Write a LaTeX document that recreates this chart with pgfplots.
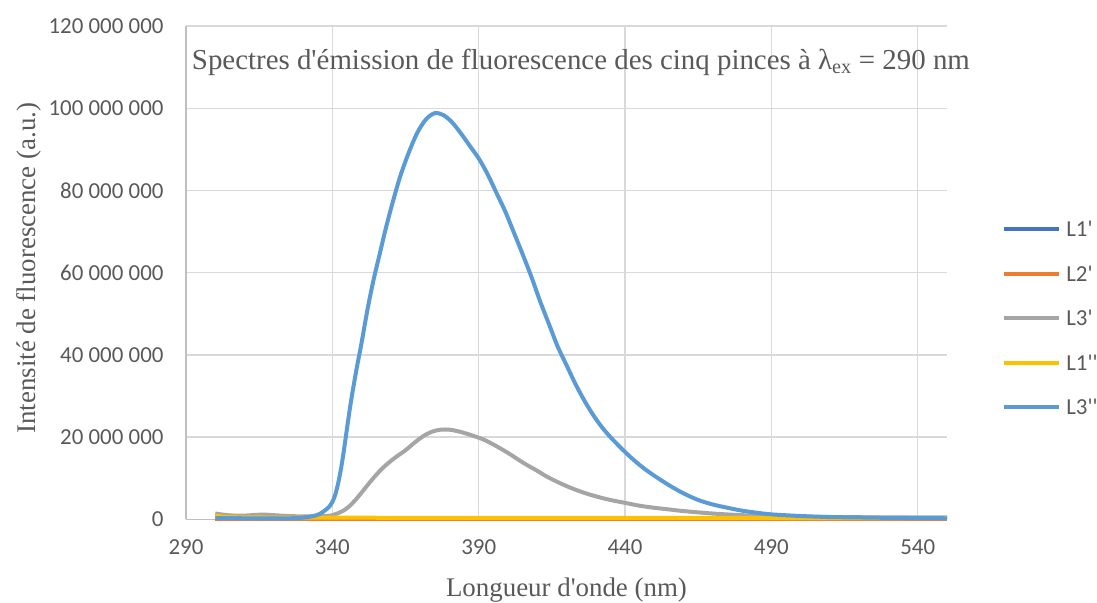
\documentclass[border=0pt]{standalone}
\usepackage{fontspec}
\setmainfont{Liberation Serif}
\newfontfamily\tnr{Liberation Serif}
\newfontfamily\calibri{Carlito}
\usepackage{pgfplots}
\pgfplotsset{compat=1.18}

\definecolor{sA}{HTML}{4472C4}
\definecolor{sB}{HTML}{ED7D31}
\definecolor{sC}{HTML}{A5A5A5}
\definecolor{sD}{HTML}{FFC000}
\definecolor{sE}{HTML}{5B9BD5}
\definecolor{txt}{HTML}{595959}
\definecolor{gridc}{HTML}{D9D9D9}
\definecolor{axisc}{HTML}{BFBFBF}

\begin{document}
\begin{tikzpicture}
\path[use as bounding box] (0bp,0bp) rectangle (1097bp,603bp);
\begin{axis}[
    at={(186bp,83.7bp)}, anchor=south west,
    scale only axis, width=761bp, height=493.3bp,
    xmin=290, xmax=550, ymin=0, ymax=120000000,
    clip=false,
    scaled y ticks=false,
    xtick={290,340,390,440,490,540},
    xticklabels={290,340,390,440,490,540},
    ytick={0,20000000,40000000,60000000,80000000,100000000,120000000},
    yticklabels={0,20 000 000,40 000 000,60 000 000,80 000 000,100 000 000,120 000 000},
    axis x line*=bottom, axis y line*=left,
    axis line style={axisc, line width=1.3bp, -},
    grid=major, major grid style={gridc, line width=1.3bp},
    major tick length=0pt,
    tick label style={font=\calibri\fontsize{23}{27}\selectfont, text=txt},
    yticklabel style={xshift=-19bp},
    xticklabel style={yshift=-17bp},
    title={Spectres d'émission de fluorescence des cinq pinces à λ\textsubscript{ex} = 290 nm},
    title style={at={(axis description cs:0.519,0.899)}, anchor=base,
        font=\tnr\fontsize{29}{33}\selectfont, text=txt},
    xlabel={Longueur d'onde (nm)},
    xlabel style={at={(axis description cs:0.5,-0.1555)}, anchor=base,
        font=\tnr\fontsize{27}{31}\selectfont, text=txt},
    ylabel={Intensité de fluorescence (a.u.)},
    ylabel style={at={(axis description cs:-0.1984,0.509)}, anchor=base,
        font=\tnr\fontsize{27}{31}\selectfont, text=txt},
    every axis plot/.append style={line width=4bp},
    legend image code/.code={\draw[#1] (0bp,0bp) -- (55bp,0bp);},
    legend cell align=left,
    legend style={at={(axis description cs:1.0685,0.408)}, anchor=west,
        draw=none, fill=none, font=\calibri\fontsize{23}{27}\selectfont,
        text=txt, row sep=29.5bp, column sep=5bp,
        nodes={inner sep=0pt, text height=15bp, text depth=0bp}},
]
% L1'
\addplot[sA] coordinates {(300,100000) (350,100000) (400,100000) (450,100000) (500,100000) (550,100000)};
\addlegendentry{L1'}
% L2'
\addplot[sB] coordinates {(300,150000) (350,150000) (400,150000) (450,150000) (500,150000) (550,150000)};
\addlegendentry{L2'}
% L3'
\addplot[sC, smooth] coordinates {
(300,1400000) (302,1200000) (305,950000) (310,900000) (316,1150000) (320,1000000)
(325,800000) (330,700000) (335,700000) (338,800000) (340,1000000) (342,1500000)
(344,2200000) (346,3300000) (348,4800000) (350,6500000) (352,8300000) (354,10000000)
(356,11600000) (358,13000000) (360,14200000) (362,15300000) (365,16800000)
(368,18600000) (371,20200000) (374,21300000) (377,21800000) (380,21800000)
(383,21400000) (386,20800000) (389,20100000) (392,19300000) (395,18200000)
(398,17000000) (401,15700000) (404,14300000) (407,13000000) (410,11800000)
(413,10500000) (416,9400000) (419,8400000) (422,7500000) (425,6700000)
(428,6000000) (431,5400000) (435,4700000) (440,4000000) (445,3300000)
(450,2800000) (455,2400000) (460,2000000) (470,1400000) (480,1000000)
(490,800000) (500,650000) (520,500000) (550,450000)};
\addlegendentry{L3'}
% L1''
\addplot[sD] coordinates {(300,900000) (303,600000) (310,450000) (350,380000) (400,350000) (450,330000) (500,310000) (550,300000)};
\addlegendentry{L1''}
% L3''
\addplot[sE, smooth] coordinates {
(300,300000) (310,250000) (320,200000) (328,300000) (332,600000) (335,1100000)
(337,1900000) (339,3100000) (340,4200000) (341,6000000) (342,8800000) (343,12500000)
(344,17000000) (346,27000000) (348,35500000)
(350,43000000) (352,51000000) (354,58000000) (356,64000000) (358,70000000)
(360,75500000) (363,83000000) (366,89000000) (369,94000000) (372,97300000)
(375,98800000) (378,98300000) (381,96500000) (384,93800000) (387,90800000)
(390,87800000) (393,84000000) (396,79500000) (399,75000000) (402,69800000)
(405,64500000) (408,59000000) (411,53000000) (414,47500000) (417,42000000)
(420,37500000) (423,33000000) (426,29000000) (429,25500000) (432,22500000)
(435,20000000) (438,17800000) (441,15700000) (444,13800000) (447,12100000)
(450,10600000) (455,8300000) (460,6300000) (465,4700000) (470,3600000)
(475,2800000) (480,2100000) (485,1600000) (490,1200000) (500,800000)
(510,550000) (520,450000) (530,350000) (540,300000) (550,250000)};
\addlegendentry{L3''}
\end{axis}
\end{tikzpicture}
\end{document}
